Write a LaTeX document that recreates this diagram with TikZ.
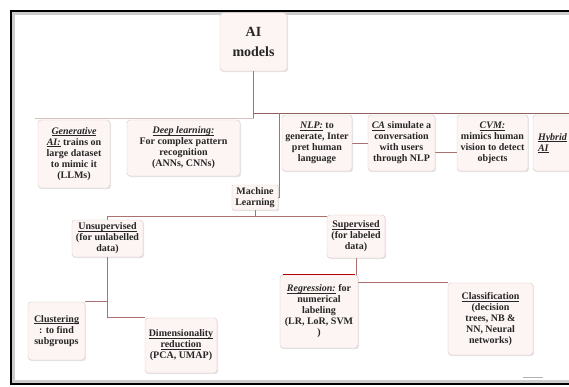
\documentclass[tikz,border=0pt]{standalone}
\usepackage{fontspec}
\setmainfont{Liberation Serif}
\usetikzlibrary{%
  shapes.misc,% wg. rounded rectangle
  shadows,%
  positioning,% wg. " of "
  backgrounds%
}
\definecolor{boxfill}{RGB}{253,245,243}
\definecolor{boxline}{RGB}{214,198,198}
\definecolor{linkred}{RGB}{172,112,112}
\newcommand{\uln}[1]{\leavevmode\setbox0\hbox{#1}\rlap{\rule[-1.6pt]{\wd0}{0.5pt}}\box0\relax}
\newcommand{\head}[1]{\uln{\textit{#1}}}

\begin{document}
\begin{tikzpicture}[x=1pt, y=1pt,
  every node/.style = {font=\bfseries\fontsize{10}{11}\selectfont, text=black!85},
  box/.style = {shape=rectangle, rounded corners=3pt,
    draw=boxline, fill=boxfill, align=center, inner sep=1.5pt,
    drop shadow={shadow xshift=1pt, shadow yshift=-1.2pt, opacity=0.2}},
  link/.style = {draw=linkred, line width=0.6pt}]
  \useasboundingbox (0,0) rectangle (569,387);

  \node[box, font=\bfseries\fontsize{14}{20}\selectfont,
    minimum width=67pt, minimum height=58pt] (ai) at (253.5,345) {AI\\models};

  % first level
  \node[box, minimum width=72pt, minimum height=68pt] (gen) at (74,233)
    {\head{Generative}\\ \head{AI:} trains on\\large dataset\\to mimic it\\(LLMs)};
  \node[box, minimum width=113pt, minimum height=56pt] (deep) at (183.5,239)
    {\head{Deep learning:}\\For complex pattern\\recognition\\(ANNs, CNNs)};
  \node[box, minimum width=70pt, minimum height=56pt] (nlp) at (317,244)
    {\head{NLP:} to\\generate, Inter\\pret human\\language};
  \node[box, minimum width=67pt, minimum height=56pt] (ca) at (401.5,244)
    {\head{CA} simulate a\\conversation\\with users\\through NLP};
  \node[box, minimum width=71pt, minimum height=56pt] (cvm) at (492.5,244)
    {\head{CVM:}\\mimics human\\vision to detect\\objects};
  \node[box, minimum width=57pt, minimum height=56pt, align=left,
    text width=47pt, inner xsep=5pt] (hyb) at (561.5,244) {\head{Hybrid}\\\head{AI}};

  \node[box, rounded corners=1pt, minimum width=46pt, minimum height=25pt] (ml) at (255,189.5)
    {Machine\\Learning};

  % learning types
  \node[box, minimum width=71pt, minimum height=37pt] (unsup) at (107.5,148.5)
    {\uln{Unsupervised}\\(for unlabelled\\data)};
  \node[box, minimum width=58pt, minimum height=43pt] (sup) at (356,150.5)
    {\uln{Supervised}\\(for labeled\\data)};

  \node[box, minimum width=57pt, minimum height=58pt] (clus) at (56.5,56)
    {\uln{Clustering}\\: to find\\subgroups};
  \node[box, minimum width=72pt, minimum height=55pt] (dim) at (181,41.5)
    {\uln{Dimensionality}\\\uln{reduction}\\(PCA, UMAP)};
  \node[box, minimum width=78pt, minimum height=73pt] (reg) at (319,75.5)
    {\head{Regression:} for\\numerical\\labeling\\(LR, LoR, SVM\\)};
  \node[box, minimum width=85pt, minimum height=72pt] (cls) at (490.5,68)
    {\uln{Classification}\\(decision\\trees, NB \&\\NN, Neural\\networks)};
  \draw[red!70!black, line width=1pt] ([xshift=3pt]reg.north west) -- ([xshift=-3pt]reg.north east);

  \begin{scope}[on background layer]
    \draw[black, line width=1.6pt] (11,3) rectangle (580,376);
    \draw[gray!40, line width=2.5pt] (13.6,5.6) rectangle (577.4,373.4);
    \draw[gray!60, line width=1pt] (523,9) -- (543,9);

    \coordinate (bus) at (253.5,269);
    \coordinate (busL) at (35,269);
    \coordinate (busM) at (253.5,273.5);
    \coordinate (busR) at (575,273.5);
    \coordinate (mltap) at (279,273.5);
    \coordinate (mlsplit) at (255,170);
    \draw[link] (ai) -- (bus);
    \draw[link, draw=linkred!45] (bus) -- (busL);
    \draw[link, line width=1pt, draw=linkred!85!black] (busM) -- (busR);
    \draw[link] (mltap) |- (ml.east);
    \draw[link] (nlp.east) -- (ca.west);
    \draw[link] ([yshift=-9pt]ca.east) -- ([yshift=-9pt]cvm.west);

    \draw[link] (ml.south) -- (mlsplit);
    \draw[link] (unsup.north) |- ([yshift=-2pt]sup.north west);
    \draw[link] (unsup.south) |- (dim.north west);
    \draw[link] (unsup.south) |- (clus.north east);
    \draw[link] (sup.south) |- (cls.north west);
  \end{scope}
\end{tikzpicture}
\end{document}
